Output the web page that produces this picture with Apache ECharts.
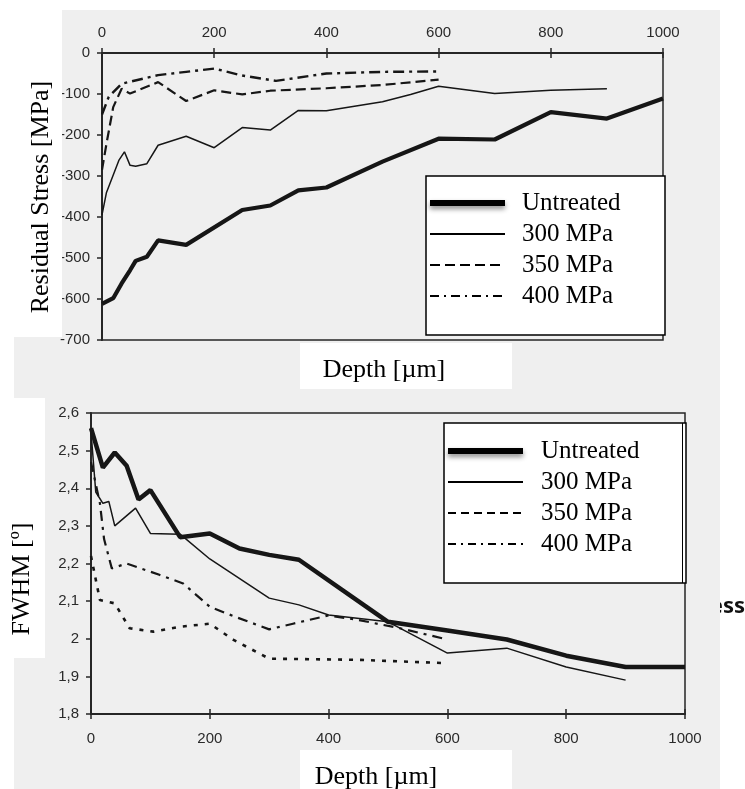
<!DOCTYPE html>
<html>
<head>
<meta charset="utf-8">
<script src="https://cdn.jsdelivr.net/npm/echarts@6/dist/echarts.min.js"></script>
<style>
  html, body { margin: 0; padding: 0; background: #ffffff; }
  #chart { width: 745px; height: 789px; }
</style>
</head>
<body>
<div id="chart"></div>
<script>
// Residual stress profiles [MPa] versus depth [µm]
const rsDepthUntreated = [0, 20, 35, 50, 60, 80, 100, 150, 250, 300, 350, 400, 500, 600, 700, 800, 900, 1000];
const rsUntreated      = [-612, -598, -562, -530, -507, -497, -457, -468, -383, -372, -335, -328, -265, -209, -211, -144, -160, -111];
const rsDepth300 = [0, 8, 30, 40, 50, 60, 80, 100, 150, 200, 250, 300, 350, 400, 500, 550, 600, 700, 800, 900];
const rs300      = [-395, -340, -262, -241, -274, -276, -270, -225, -203, -231, -182, -188, -140, -141, -119, -101, -81, -99, -91, -87];
const rsDepth350 = [0, 8, 20, 35, 50, 100, 150, 200, 250, 300, 400, 500, 600];
const rs350      = [-285, -221, -132, -87, -99, -71, -117, -91, -101, -92, -86, -78, -65];
const rsDepth400 = [0, 12, 35, 100, 150, 200, 250, 310, 400, 500, 600];
const rs400      = [-150, -107, -75, -54, -46, -38, -55, -68, -50, -46, -45];

// FWHM profiles [º] versus depth [µm]
const fwDepthUntreated = [0, 20, 40, 60, 80, 100, 150, 200, 250, 300, 350, 500, 600, 700, 800, 900, 1000];
const fwUntreated      = [2.56, 2.455, 2.495, 2.46, 2.37, 2.395, 2.27, 2.28, 2.24, 2.223, 2.21, 2.045, 2.022, 1.998, 1.955, 1.925, 1.925];
const fwDepth300 = [0, 8, 20, 30, 40, 75, 100, 150, 200, 300, 350, 400, 500, 600, 700, 800, 900];
const fw300      = [2.55, 2.39, 2.36, 2.365, 2.30, 2.347, 2.28, 2.278, 2.212, 2.108, 2.09, 2.063, 2.045, 1.962, 1.975, 1.925, 1.89];
const fwDepth350 = [0, 7, 15, 40, 65, 105, 150, 200, 240, 300, 450, 600];
const fw350      = [2.22, 2.165, 2.103, 2.094, 2.028, 2.019, 2.032, 2.04, 1.997, 1.947, 1.944, 1.935];
const fwDepth400 = [0, 15, 22, 35, 60, 115, 155, 200, 240, 300, 340, 400, 450, 520, 600];
const fw400      = [2.47, 2.36, 2.265, 2.187, 2.2, 2.17, 2.147, 2.085, 2.06, 2.025, 2.04, 2.062, 2.05, 2.028, 1.998];

// Axis settings and labels
const seriesNames = ['Untreated', '300 MPa', '350 MPa', '400 MPa'];
const depthMin = 0, depthMax = 1000, depthStep = 200;
const stressMin = -700, stressMax = 0, stressStep = 100;
const fwhmMin = 1.8, fwhmMax = 2.6, fwhmStep = 0.1;
const stressAxisTitle = 'Residual Stress [MPa]';
const fwhmAxisTitle = 'FWHM [º]';
const depthAxisTitle = 'Depth [µm]';

const zip = (xs, ys) => xs.map((x, i) => [x, ys[i]]);

const INK = '#161616';
const AXIS = '#262626';
const tickFont = { fontFamily: 'Liberation Sans', fontSize: 15, color: '#2a2a2a' };
const serif = 'Liberation Serif';

// plain integer labels (no thousands separator)
const intLabel = v => String(Math.round(v));
// decimal comma labels for the FWHM axis
const fwLabel = v => String(Math.round(v * 10) / 10).replace('.', ',');

function mainAxis(extra, labelExtra) {
  return Object.assign({
    type: 'value',
    axisLine: { show: true, lineStyle: { color: AXIS, width: 2 } },
    axisTick: { show: true, length: 5, lineStyle: { color: AXIS, width: 1.5 } },
    splitLine: { show: false },
    axisLabel: Object.assign({ margin: 12, formatter: intLabel }, tickFont, labelExtra || {})
  }, extra);
}
function tickAxis(extra) {
  return Object.assign({
    type: 'value',
    axisLine: { show: false },
    axisTick: { show: true, inside: true, length: 5, lineStyle: { color: AXIS, width: 1.5 } },
    splitLine: { show: false },
    axisLabel: { show: false }
  }, extra);
}

function line(name, data, xi, yi, width, type, z) {
  return {
    name, type: 'line', data, xAxisIndex: xi, yAxisIndex: yi,
    symbol: 'none', smooth: false, z: z || 2,
    lineStyle: { color: INK, width, type: type || 'solid' },
    itemStyle: { color: INK },
    emphasis: { disabled: true }
  };
}

function legendBlock(left, top, textPad, dash350, dash400) {
  return {
    orient: 'vertical', left, top, padding: 0,
    itemWidth: 75, itemHeight: 14, itemGap: 5,
    selectedMode: false,
    itemStyle: { opacity: 0 },
    textStyle: { fontFamily: serif, fontSize: 25, color: '#000', lineHeight: 26, padding: [0, 0, 0, textPad] },
    data: [
      { name: seriesNames[0], lineStyle: { width: 6, color: '#000', type: 'solid', shadowColor: 'rgba(0,0,0,0.45)', shadowBlur: 5, shadowOffsetY: 3 } },
      { name: seriesNames[1], lineStyle: { width: 2, color: '#000', type: 'solid' } },
      { name: seriesNames[2], lineStyle: { width: 2, color: '#000', type: dash350 } },
      { name: seriesNames[3], lineStyle: { width: 2, color: '#000', type: dash400 } }
    ]
  };
}

const chart = echarts.init(document.getElementById('chart'), null, { renderer: 'canvas' });

chart.setOption({
  animation: false,
  backgroundColor: '#ffffff',
  grid: [
    { left: 102, top: 53, width: 561, height: 287, show: true, borderColor: AXIS, borderWidth: 1.5, backgroundColor: 'transparent' },
    { left: 91, top: 413, width: 594, height: 301, show: true, borderColor: AXIS, borderWidth: 1.5, backgroundColor: 'transparent' }
  ],
  xAxis: [
    mainAxis({ gridIndex: 0, position: 'top', min: depthMin, max: depthMax, interval: depthStep }, { margin: 13 }),
    tickAxis({ gridIndex: 0, position: 'top', min: depthMin, max: depthMax, interval: depthStep }),
    mainAxis({ gridIndex: 1, position: 'bottom', min: depthMin, max: depthMax, interval: depthStep }, { margin: 17 }),
    tickAxis({ gridIndex: 1, position: 'bottom', min: depthMin, max: depthMax, interval: depthStep })
  ],
  yAxis: [
    mainAxis({ gridIndex: 0, min: stressMin, max: stressMax, interval: stressStep }),
    tickAxis({ gridIndex: 0, min: stressMin, max: stressMax, interval: stressStep }),
    mainAxis({ gridIndex: 1, min: fwhmMin, max: fwhmMax, interval: fwhmStep }, { formatter: fwLabel }),
    tickAxis({ gridIndex: 1, min: fwhmMin, max: fwhmMax, interval: fwhmStep })
  ],
  legend: [
    legendBlock(427, 190, 12, [10, 5], [9, 5, 2, 5]),
    legendBlock(445, 438, 13, [8, 5], [8, 5, 2, 5])
  ],
  series: [
    line(seriesNames[0], zip(rsDepthUntreated, rsUntreated), 0, 0, 4.2, 'solid', 3),
    line(seriesNames[1], zip(rsDepth300, rs300), 0, 0, 1.5),
    line(seriesNames[2], zip(rsDepth350, rs350), 0, 0, 2.2, [10, 5]),
    line(seriesNames[3], zip(rsDepth400, rs400), 0, 0, 2.4, [11, 5, 3, 5]),
    line(seriesNames[0], zip(fwDepthUntreated, fwUntreated), 2, 2, 4.5, 'solid', 3),
    line(seriesNames[1], zip(fwDepth300, fw300), 2, 2, 1.5),
    line(seriesNames[2], zip(fwDepth350, fw350), 2, 2, 2.6, [4, 7]),
    line(seriesNames[3], zip(fwDepth400, fw400), 2, 2, 2.2, [10, 6, 3, 6])
  ],
  graphic: [
    // partially hidden caption to the right
    { type: 'text', z: -20, x: 745, y: 607,
      style: { text: 'Stress', fontFamily: 'Noto Sans', fontWeight: 'bold', fontSize: 22, fill: '#111', align: 'right', verticalAlign: 'middle' } },
    // scanned page area
    { type: 'rect', z: -10, shape: { x: 14, y: 10, width: 706, height: 779 }, style: { fill: '#efefef' } },
    // legend frames
    { type: 'rect', z: 3, shape: { x: 426, y: 176, width: 239, height: 159 }, style: { fill: '#ffffff', stroke: '#000', lineWidth: 1.5 } },
    { type: 'rect', z: 3, shape: { x: 444, y: 423, width: 242, height: 160 }, style: { fill: '#ffffff', stroke: '#000', lineWidth: 1.5 } },
    { type: 'line', z: 3, shape: { x1: 682.5, y1: 423, x2: 682.5, y2: 583 }, style: { stroke: '#000', lineWidth: 1 } },
    // axis titles on white panels
    { type: 'rect', z: 10, shape: { x: 14, y: 10, width: 48, height: 327 }, style: { fill: '#ffffff' } },
    { type: 'text', z: 11, x: 41, y: 197, rotation: Math.PI / 2,
      style: { text: stressAxisTitle, fontFamily: serif, fontSize: 26, fill: '#000', align: 'center', verticalAlign: 'middle' } },
    { type: 'rect', z: 10, shape: { x: 300, y: 343, width: 212, height: 46 }, style: { fill: '#ffffff' } },
    { type: 'text', z: 11, x: 384, y: 370,
      style: { text: depthAxisTitle, fontFamily: serif, fontSize: 26, fill: '#000', align: 'center', verticalAlign: 'middle' } },
    { type: 'rect', z: 10, shape: { x: 0, y: 398, width: 45, height: 260 }, style: { fill: '#ffffff' } },
    { type: 'text', z: 11, x: 22, y: 579, rotation: Math.PI / 2,
      style: { text: fwhmAxisTitle, fontFamily: serif, fontSize: 26, fill: '#000', align: 'center', verticalAlign: 'middle' } },
    { type: 'rect', z: 10, shape: { x: 300, y: 750, width: 212, height: 39 }, style: { fill: '#ffffff' } },
    { type: 'text', z: 11, x: 376, y: 777,
      style: { text: depthAxisTitle, fontFamily: serif, fontSize: 26, fill: '#000', align: 'center', verticalAlign: 'middle' } }
  ]
});
</script>
</body>
</html>
